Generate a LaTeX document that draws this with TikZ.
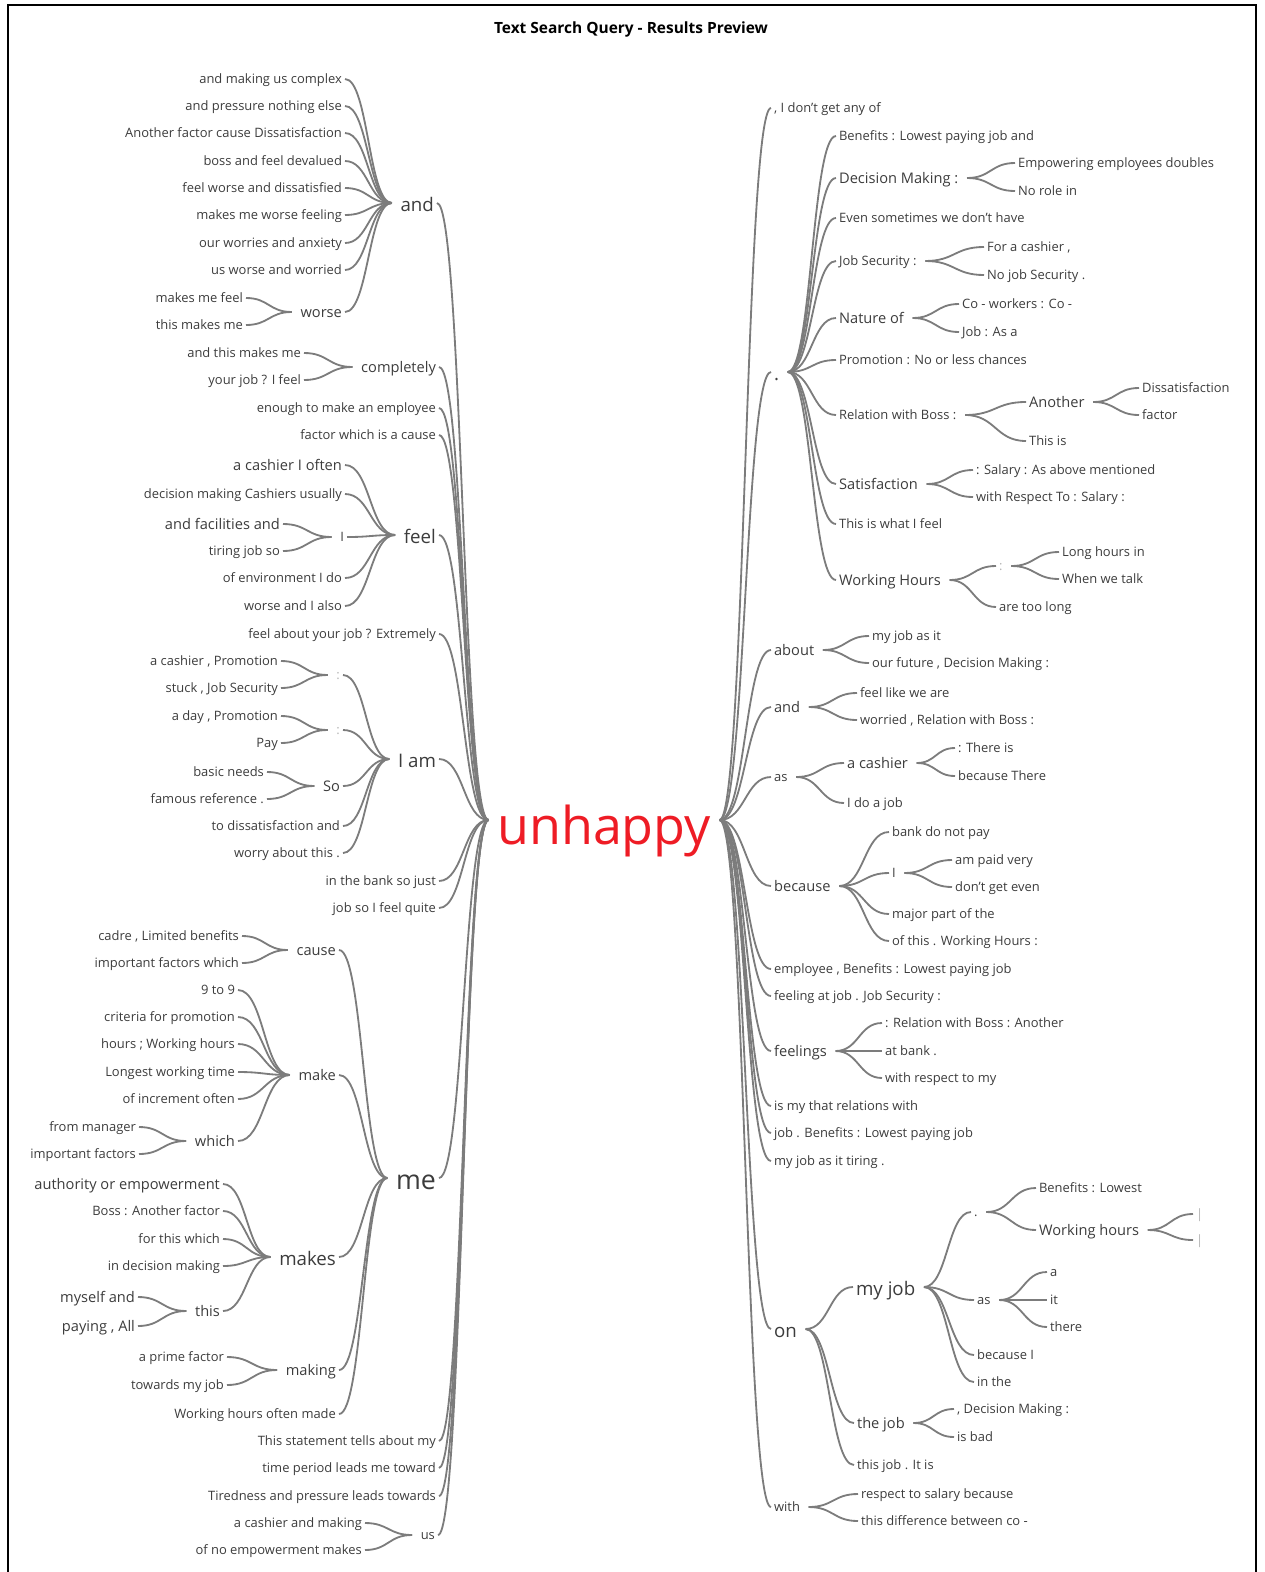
\documentclass[tikz,border=0pt]{standalone}
\usepackage{fontspec}
\setmainfont{Open Sans}
\usepackage{tikz}
\usetikzlibrary{calc}
\definecolor{wordgray}{HTML}{3C3C3C}
\definecolor{linegray}{HTML}{7C7C7C}
\definecolor{faintgray}{HTML}{B4B4B4}
\definecolor{rootred}{HTML}{EE1C25}
\tikzset{
  word/.style={text=wordgray, inner xsep=2pt, inner ysep=0pt, text depth=0pt},
  lw/.style={word, anchor=east},
  rw/.style={word, anchor=west},
  wsm/.style={font=\fontsize{9.2}{11}\selectfont, text height=6.5pt},
  wmd/.style={font=\fontsize{10.4}{12}\selectfont, text height=7.5pt},
  wlg/.style={font=\fontsize{13.3}{15}\selectfont, text height=12pt},
  wxl/.style={font=\fontsize{19}{22}\selectfont, text height=17pt},
  faint/.style={text=faintgray},
  twig/.style={draw=linegray, line width=1.3pt},
  rootword/.style={text=rootred, font=\fontsize{37}{40}\selectfont, inner xsep=2pt, inner ysep=0pt, text height=35pt, text depth=0pt}
}
\newcommand{\twigl}[2]{\draw[twig] let \p1=(#1.east), \p2=([xshift=-4pt]#2.west) in (\p1) .. controls ({(\x1+\x2)/2},\y1) and ({(\x1+\x2)/2},\y2) .. (\p2);}
\newcommand{\twigr}[2]{\draw[twig] let \p1=([xshift=4pt]#1.east), \p2=(#2.west) in (\p1) .. controls ({(\x1+\x2)/2},\y1) and ({(\x1+\x2)/2},\y2) .. (\p2);}

\begin{document}
\begin{tikzpicture}[x=0.025cm, y=-0.025cm]
      \useasboundingbox (0,0) rectangle (1264,1572);
      \draw[line width=0.9pt] (8,1572) -- (8,5) -- (1256,5) -- (1256,1572);
      \node[font=\bfseries\fontsize{11}{13}\selectfont] (T) at (631,29) {Text Search Query - Results Preview};

      \node[rootword] (U) at (604,820) {unhappy};

      \node[lw,wlg] (A) at (437,203) {and};
      \node[lw,wsm] (A1) at (345,79) {and making us complex};
      \node[lw,wsm] (A2) at (345,106) {and pressure nothing else};
      \node[lw,wsm] (A3) at (345,133) {Another factor cause Dissatisfaction};
      \node[lw,wsm] (A4) at (345,161) {boss and feel devalued};
      \node[lw,wsm] (A5) at (345,188) {feel worse and dissatisfied};
      \node[lw,wsm] (A6) at (345,215) {makes me worse feeling};
      \node[lw,wsm] (A7) at (345,243) {our worries and anxiety};
      \node[lw,wsm] (A8) at (345,270) {us worse and worried};
      \node[lw,wmd] (A9) at (345,312) {worse};
      \node[lw,wsm] (A9a) at (246,298) {makes me feel};
      \node[lw,wsm] (A9b) at (246,325) {this makes me};
      \node[lw,wmd] (B) at (439,367) {completely};
      \node[lw,wsm] (B1) at (304,353) {and this makes me};
      \node[lw,wsm] (B2) at (304,380) {your job ? I feel};
      \node[lw,wsm] (C) at (439,408) {enough to make an employee};
      \node[lw,wsm] (D) at (439,435) {factor which is a cause};
      \node[lw,wlg] (E) at (439,535) {feel};
      \node[lw,wmd] (E1) at (345,465) {a cashier I often};
      \node[lw,wsm] (E2) at (345,494) {decision making Cashiers usually};
      \node[lw,wsm] (E3) at (347,537) {I};
      \node[lw,wmd] (E3a) at (283,524) {and facilities and};
      \node[lw,wsm] (E3b) at (283,551) {tiring job so};
      \node[lw,wsm] (E4) at (345,578) {of environment I do};
      \node[lw,wsm] (E5) at (345,606) {worse and I also};
      \node[lw,wsm] (F) at (439,634) {feel about your job ? Extremely};
      \node[lw,wlg] (G) at (439,759) {I am};
      \node[lw,wsm,faint] (G1) at (343,675) {:};
      \node[lw,wsm] (G1a) at (281,661) {a cashier , Promotion};
      \node[lw,wsm] (G1b) at (281,688) {stuck , Job Security};
      \node[lw,wsm,faint] (G2) at (343,730) {:};
      \node[lw,wsm] (G2a) at (281,716) {a day , Promotion};
      \node[lw,wsm] (G2b) at (281,743) {Pay};
      \node[lw,wmd] (G3) at (343,786) {So};
      \node[lw,wsm] (G3a) at (267,772) {basic needs};
      \node[lw,wsm] (G3b) at (267,799) {famous reference .};
      \node[lw,wsm] (G4) at (343,826) {to dissatisfaction and};
      \node[lw,wsm] (G5) at (343,853) {worry about this .};
      \node[lw,wsm] (H) at (439,881) {in the bank so just};
      \node[lw,wsm] (I) at (439,908) {job so I feel quite};
      \node[lw,wxl] (M) at (439,1178) {me};
      \node[lw,wmd] (M1) at (339,950) {cause};
      \node[lw,wsm] (M1a) at (242,936) {cadre , Limited benefits};
      \node[lw,wsm] (M1b) at (242,963) {important factors which};
      \node[lw,wmd] (M2) at (339,1075) {make};
      \node[lw,wsm] (M2a) at (238,990) {9 to 9};
      \node[lw,wsm] (M2b) at (238,1017) {criteria for promotion};
      \node[lw,wsm] (M2c) at (238,1044) {hours ; Working hours};
      \node[lw,wsm] (M2d) at (238,1072) {Longest working time};
      \node[lw,wsm] (M2e) at (238,1099) {of increment often};
      \node[lw,wmd] (M2f) at (238,1141) {which};
      \node[lw,wsm] (M2fa) at (139,1127) {from manager};
      \node[lw,wsm] (M2fb) at (139,1154) {important factors};
      \node[lw,wlg] (M3) at (339,1257) {makes};
      \node[lw,wmd] (M3a) at (223,1184) {authority or empowerment};
      \node[lw,wsm] (M3b) at (223,1211) {Boss : Another factor};
      \node[lw,wsm] (M3c) at (223,1239) {for this which};
      \node[lw,wsm] (M3d) at (223,1266) {in decision making};
      \node[lw,wmd] (M3e) at (223,1311) {this};
      \node[lw,wmd] (M3ea) at (138,1297) {myself and};
      \node[lw,wmd] (M3eb) at (138,1326) {paying , All};
      \node[lw,wmd] (M4) at (339,1370) {making};
      \node[lw,wsm] (M4a) at (227,1357) {a prime factor};
      \node[lw,wsm] (M4b) at (227,1385) {towards my job};
      \node[lw,wsm] (M5) at (339,1414) {Working hours often made};
      \node[lw,wsm] (N) at (439,1441) {This statement tells about my};
      \node[lw,wsm] (O) at (439,1468) {time period leads me toward};
      \node[lw,wsm] (P) at (439,1496) {Tiredness and pressure leads towards};
      \node[lw,wsm] (Q) at (438,1535) {us};
      \node[lw,wsm] (Q1) at (365,1523) {a cashier and making};
      \node[lw,wsm] (Q2) at (365,1550) {of no empowerment makes};

      \node[rw,wsm] (R1) at (771,108) {, I don't get any of};
      \node[rw,wlg] (R2) at (771,372) {.};
      \node[rw,wsm] (R2a) at (836,136) {Benefits : Lowest paying job and};
      \node[rw,wmd] (R2b) at (836,178) {Decision Making :};
      \node[rw,wsm] (R2ba) at (1015,163) {Empowering employees doubles};
      \node[rw,wsm] (R2bb) at (1015,191) {No role in};
      \node[rw,wsm] (R2c) at (836,218) {Even sometimes we don't have};
      \node[rw,wsm] (R2d) at (836,261) {Job Security :};
      \node[rw,wsm] (R2da) at (984,247) {For a cashier ,};
      \node[rw,wsm] (R2db) at (984,275) {No job Security .};
      \node[rw,wmd] (R2e) at (836,318) {Nature of};
      \node[rw,wsm] (R2ea) at (959,304) {Co - workers : Co -};
      \node[rw,wsm] (R2eb) at (959,332) {Job : As a};
      \node[rw,wsm] (R2f) at (836,360) {Promotion : No or less chances};
      \node[rw,wsm] (R2g) at (836,415) {Relation with Boss :};
      \node[rw,wmd] (R2ga) at (1026,402) {Another};
      \node[rw,wsm] (R2gaa) at (1139,388) {Dissatisfaction};
      \node[rw,wsm] (R2gab) at (1139,415) {factor};
      \node[rw,wsm] (R2gb) at (1026,441) {This is};
      \node[rw,wmd] (R2h) at (836,484) {Satisfaction};
      \node[rw,wsm] (R2ha) at (973,470) {: Salary : As above mentioned};
      \node[rw,wsm] (R2hb) at (973,497) {with Respect To : Salary :};
      \node[rw,wsm] (R2i) at (836,524) {This is what I feel};
      \node[rw,wmd] (R2j) at (836,580) {Working Hours};
      \node[rw,wsm,faint] (R2ja) at (996,566) {:};
      \node[rw,wsm] (R2jaa) at (1059,552) {Long hours in};
      \node[rw,wsm] (R2jab) at (1059,579) {When we talk};
      \node[rw,wsm] (R2jb) at (996,607) {are too long};
      \node[rw,wmd] (R3) at (771,650) {about};
      \node[rw,wsm] (R3a) at (869,636) {my job as it};
      \node[rw,wsm] (R3b) at (869,663) {our future , Decision Making :};
      \node[rw,wmd] (R4) at (771,707) {and};
      \node[rw,wsm] (R4a) at (857,693) {feel like we are};
      \node[rw,wsm] (R4b) at (857,720) {worried , Relation with Boss :};
      \node[rw,wsm] (R5) at (771,777) {as};
      \node[rw,wmd] (R5a) at (844,763) {a cashier};
      \node[rw,wsm] (R5aa) at (955,748) {: There is};
      \node[rw,wsm] (R5ab) at (955,776) {because There};
      \node[rw,wsm] (R5b) at (844,803) {I do a job};
      \node[rw,wmd] (R6) at (771,886) {because};
      \node[rw,wsm] (R6a) at (889,832) {bank do not pay};
      \node[rw,wsm] (R6b) at (889,873) {I};
      \node[rw,wsm] (R6ba) at (952,860) {am paid very};
      \node[rw,wsm] (R6bb) at (952,887) {don't get even};
      \node[rw,wsm] (R6c) at (889,914) {major part of the};
      \node[rw,wsm] (R6d) at (889,941) {of this . Working Hours :};
      \node[rw,wsm] (R7) at (771,969) {employee , Benefits : Lowest paying job};
      \node[rw,wsm] (R8) at (771,996) {feeling at job . Job Security :};
      \node[rw,wmd] (R9) at (771,1051) {feelings};
      \node[rw,wsm] (R9a) at (882,1023) {: Relation with Boss : Another};
      \node[rw,wsm] (R9b) at (882,1051) {at bank .};
      \node[rw,wsm] (R9c) at (882,1078) {with respect to my};
      \node[rw,wsm] (R10) at (771,1106) {is my that relations with};
      \node[rw,wsm] (R11) at (771,1133) {job . Benefits : Lowest paying job};
      \node[rw,wsm] (R12) at (771,1161) {my job as it tiring .};
      \node[rw,wlg] (R13) at (771,1329) {on};
      \node[rw,wlg] (R13a) at (853,1287) {my job};
      \node[rw,wsm] (R13aa) at (971,1212) {.};
      \node[rw,wsm] (R13aaa) at (1036,1188) {Benefits : Lowest};
      \node[rw,wmd] (R13aab) at (1036,1230) {Working hours};
      \node[rw,wsm,faint] (R13aab1) at (1193,1214) {|};
      \node[rw,wsm,faint] (R13aab2) at (1193,1240) {|};
      \node[rw,wsm] (R13ab) at (974,1300) {as};
      \node[rw,wsm] (R13aba) at (1047,1272) {a};
      \node[rw,wsm] (R13abb) at (1047,1300) {it};
      \node[rw,wsm] (R13abc) at (1047,1327) {there};
      \node[rw,wsm] (R13ac) at (974,1355) {because I};
      \node[rw,wsm] (R13ad) at (974,1382) {in the};
      \node[rw,wmd] (R13b) at (854,1423) {the job};
      \node[rw,wsm] (R13ba) at (954,1409) {, Decision Making :};
      \node[rw,wsm] (R13bb) at (954,1437) {is bad};
      \node[rw,wsm] (R13c) at (854,1465) {this job . It is};
      \node[rw,wsm] (R14) at (771,1507) {with};
      \node[rw,wsm] (R14a) at (858,1494) {respect to salary because};
      \node[rw,wsm] (R14b) at (858,1521) {this difference between co -};

      \twigl{A}{U}
      \twigl{B}{U}
      \twigl{C}{U}
      \twigl{D}{U}
      \twigl{E}{U}
      \twigl{F}{U}
      \twigl{G}{U}
      \twigl{H}{U}
      \twigl{I}{U}
      \twigl{M}{U}
      \twigl{N}{U}
      \twigl{O}{U}
      \twigl{P}{U}
      \twigl{Q}{U}
      \twigl{A1}{A}
      \twigl{A2}{A}
      \twigl{A3}{A}
      \twigl{A4}{A}
      \twigl{A5}{A}
      \twigl{A6}{A}
      \twigl{A7}{A}
      \twigl{A8}{A}
      \twigl{A9}{A}
      \twigl{A9a}{A9}
      \twigl{A9b}{A9}
      \twigl{B1}{B}
      \twigl{B2}{B}
      \twigl{E1}{E}
      \twigl{E2}{E}
      \twigl{E3}{E}
      \twigl{E4}{E}
      \twigl{E5}{E}
      \twigl{E3a}{E3}
      \twigl{E3b}{E3}
      \twigl{G1}{G}
      \twigl{G2}{G}
      \twigl{G3}{G}
      \twigl{G4}{G}
      \twigl{G5}{G}
      \twigl{G1a}{G1}
      \twigl{G1b}{G1}
      \twigl{G2a}{G2}
      \twigl{G2b}{G2}
      \twigl{G3a}{G3}
      \twigl{G3b}{G3}
      \twigl{M1}{M}
      \twigl{M2}{M}
      \twigl{M3}{M}
      \twigl{M4}{M}
      \twigl{M5}{M}
      \twigl{M1a}{M1}
      \twigl{M1b}{M1}
      \twigl{M2a}{M2}
      \twigl{M2b}{M2}
      \twigl{M2c}{M2}
      \twigl{M2d}{M2}
      \twigl{M2e}{M2}
      \twigl{M2f}{M2}
      \twigl{M2fa}{M2f}
      \twigl{M2fb}{M2f}
      \twigl{M3a}{M3}
      \twigl{M3b}{M3}
      \twigl{M3c}{M3}
      \twigl{M3d}{M3}
      \twigl{M3e}{M3}
      \twigl{M3ea}{M3e}
      \twigl{M3eb}{M3e}
      \twigl{M4a}{M4}
      \twigl{M4b}{M4}
      \twigl{Q1}{Q}
      \twigl{Q2}{Q}

      \twigr{U}{R1}
      \twigr{U}{R2}
      \twigr{U}{R3}
      \twigr{U}{R4}
      \twigr{U}{R5}
      \twigr{U}{R6}
      \twigr{U}{R7}
      \twigr{U}{R8}
      \twigr{U}{R9}
      \twigr{U}{R10}
      \twigr{U}{R11}
      \twigr{U}{R12}
      \twigr{U}{R13}
      \twigr{U}{R14}
      \twigr{R2}{R2a}
      \twigr{R2}{R2b}
      \twigr{R2}{R2c}
      \twigr{R2}{R2d}
      \twigr{R2}{R2e}
      \twigr{R2}{R2f}
      \twigr{R2}{R2g}
      \twigr{R2}{R2h}
      \twigr{R2}{R2i}
      \twigr{R2}{R2j}
      \twigr{R2b}{R2ba}
      \twigr{R2b}{R2bb}
      \twigr{R2d}{R2da}
      \twigr{R2d}{R2db}
      \twigr{R2e}{R2ea}
      \twigr{R2e}{R2eb}
      \twigr{R2g}{R2ga}
      \twigr{R2g}{R2gb}
      \twigr{R2ga}{R2gaa}
      \twigr{R2ga}{R2gab}
      \twigr{R2h}{R2ha}
      \twigr{R2h}{R2hb}
      \twigr{R2j}{R2ja}
      \twigr{R2j}{R2jb}
      \twigr{R2ja}{R2jaa}
      \twigr{R2ja}{R2jab}
      \twigr{R3}{R3a}
      \twigr{R3}{R3b}
      \twigr{R4}{R4a}
      \twigr{R4}{R4b}
      \twigr{R5}{R5a}
      \twigr{R5}{R5b}
      \twigr{R5a}{R5aa}
      \twigr{R5a}{R5ab}
      \twigr{R6}{R6a}
      \twigr{R6}{R6b}
      \twigr{R6}{R6c}
      \twigr{R6}{R6d}
      \twigr{R6b}{R6ba}
      \twigr{R6b}{R6bb}
      \twigr{R9}{R9a}
      \twigr{R9}{R9b}
      \twigr{R9}{R9c}
      \twigr{R13}{R13a}
      \twigr{R13}{R13b}
      \twigr{R13}{R13c}
      \twigr{R13a}{R13aa}
      \twigr{R13a}{R13ab}
      \twigr{R13a}{R13ac}
      \twigr{R13a}{R13ad}
      \twigr{R13aa}{R13aaa}
      \twigr{R13aa}{R13aab}
      \twigr{R13aab}{R13aab1}
      \twigr{R13aab}{R13aab2}
      \twigr{R13ab}{R13aba}
      \twigr{R13ab}{R13abb}
      \twigr{R13ab}{R13abc}
      \twigr{R13b}{R13ba}
      \twigr{R13b}{R13bb}
      \twigr{R14}{R14a}
      \twigr{R14}{R14b}
\end{tikzpicture}
\end{document}
